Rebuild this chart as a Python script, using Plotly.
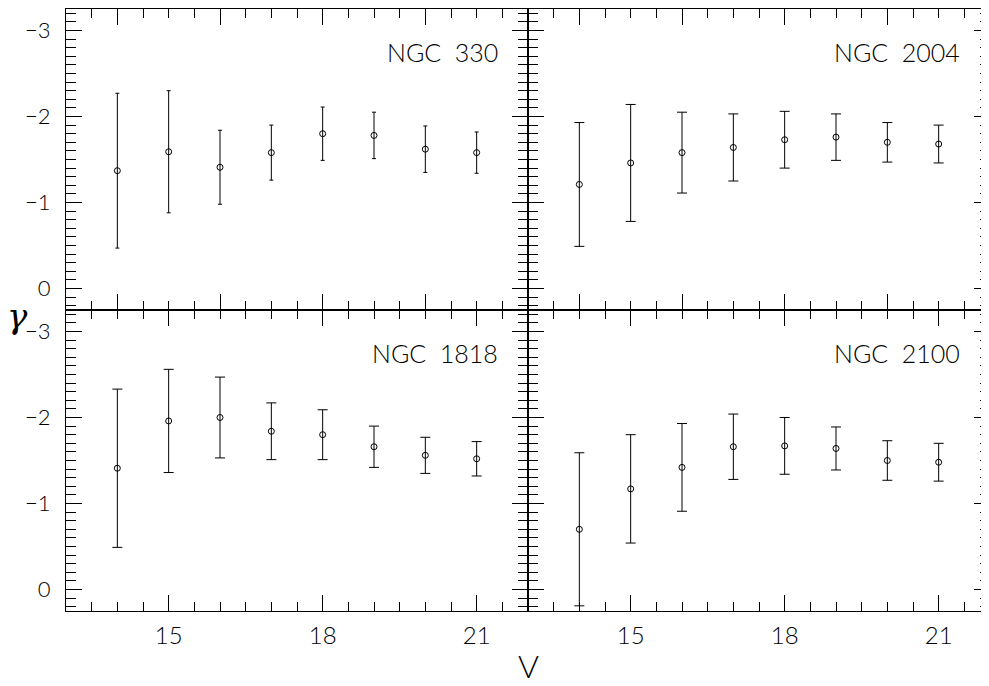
import plotly.graph_objects as go
from plotly.subplots import make_subplots

V = [14, 15, 16, 17, 18, 19, 20, 21]

clusters = ["NGC  330", "NGC  2004", "NGC  1818", "NGC  2100"]

gamma_330 = [-1.37, -1.59, -1.41, -1.58, -1.80, -1.78, -1.62, -1.58]
err_330 = [0.90, 0.71, 0.43, 0.32, 0.31, 0.27, 0.27, 0.24]

gamma_2004 = [-1.21, -1.46, -1.58, -1.64, -1.73, -1.76, -1.70, -1.68]
err_2004 = [0.72, 0.68, 0.47, 0.39, 0.33, 0.27, 0.23, 0.22]

gamma_1818 = [-1.41, -1.96, -2.00, -1.84, -1.80, -1.66, -1.56, -1.52]
err_1818 = [0.92, 0.60, 0.47, 0.33, 0.29, 0.24, 0.21, 0.20]

gamma_2100 = [-0.70, -1.17, -1.42, -1.66, -1.67, -1.64, -1.50, -1.48]
err_2100 = [0.89, 0.63, 0.51, 0.38, 0.33, 0.25, 0.23, 0.22]

series = [(gamma_330, err_330), (gamma_2004, err_2004),
          (gamma_1818, err_1818), (gamma_2100, err_2100)]
cap_widths = [2, 5, 5, 5]

FONT = "Lato, Liberation Sans, DejaVu Sans"
W = 300

fig = make_subplots(rows=2, cols=2, horizontal_spacing=0, vertical_spacing=0)

for i, ((g, e), name) in enumerate(zip(series, clusters)):
    r, c = i // 2 + 1, i % 2 + 1
    fig.add_trace(go.Scatter(
        x=V, y=g, mode="markers",
        marker=dict(symbol="circle-open", size=6, color="black",
                    line=dict(width=1, color="black")),
        error_y=dict(type="data", array=e, visible=True, color="black",
                     thickness=1, width=cap_widths[i]),
        showlegend=False, name=name,
    ), row=r, col=c)
    fig.add_annotation(x=21.45, y=-2.75, text=name, showarrow=False,
                       xanchor="right", yanchor="middle",
                       font=dict(family=FONT, size=25, color="black", weight=W),
                       row=r, col=c)

    top = r == 1
    fig.update_xaxes(
        range=[13, 22], showline=True, linecolor="black", linewidth=1.3,
        mirror="allticks", ticks="inside", ticklen=16, tickwidth=1.2,
        tickcolor="black", showgrid=False, zeroline=False,
        tickmode="linear", automargin=False,
        tick0=14 if top else 15, dtick=2 if top else 3,
        showticklabels=not top,
        tickfont=dict(family=FONT, size=24, color="black", weight=W),
        ticklabelstandoff=3,
        minor=dict(dtick=0.5, tick0=14, ticks="inside", ticklen=9,
                   tickwidth=1.2, tickcolor="black", showgrid=False),
        row=r, col=c)
    fig.update_yaxes(
        range=[0.25, -3.25], showline=True, linecolor="black", linewidth=1.3,
        mirror="allticks", ticks="inside", ticklen=16, tickwidth=1.2,
        tickcolor="black", showgrid=False, zeroline=False,
        tickmode="linear", tick0=0, dtick=1, automargin=False,
        showticklabels=(c == 1),
        tickfont=dict(family=FONT, size=22, color="black", weight=W),
        ticklabelstandoff=10,
        minor=dict(dtick=0.1, tick0=0, ticks="inside", ticklen=10,
                   tickwidth=1.2, tickcolor="black", showgrid=False),
        row=r, col=c)

fig.add_annotation(xref="paper", yref="paper", x=0.5, y=-0.09,
                   text="V", showarrow=False, xanchor="center", yanchor="middle",
                   font=dict(family=FONT, size=32, color="black", weight=W))
fig.add_annotation(xref="paper", yref="paper", x=-0.052, y=0.49,
                   text="<i>γ</i>", showarrow=False, xanchor="center", yanchor="middle",
                   font=dict(family="DejaVu Serif", size=34, color="black"))

fig.update_layout(
    template="none",
    width=982, height=678,
    margin=dict(l=58, r=0, t=1, b=75),
    paper_bgcolor="white", plot_bgcolor="white",
)

fig.write_html("out.html")
